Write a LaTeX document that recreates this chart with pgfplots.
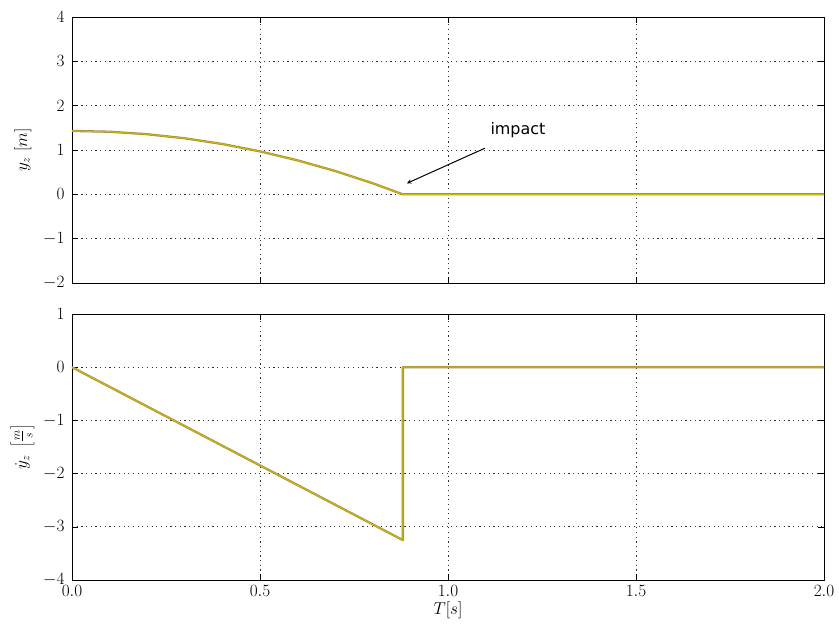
\documentclass[border=0pt]{standalone}
\usepackage{pgfplots}
\pgfplotsset{compat=1.18}
\usepackage{fontspec}
\newfontfamily\dejavu{DejaVu Sans}
\definecolor{lineouter}{RGB}{165,140,75}
\definecolor{lineinner}{RGB}{205,185,0}
\pgfplotstableread{
t y
0.00 1.430
0.10 1.412
0.20 1.356
0.30 1.264
0.40 1.135
0.50 0.969
0.60 0.766
0.70 0.526
0.80 0.249
0.88 0.000
2.00 0.000
}\postable
\pgfplotstableread{
t v
0.00 0.00
0.88 -3.25
0.88 0.00
2.00 0.00
}\veltable
\begin{document}
\begin{tikzpicture}[x=1bp,y=1bp]
\pgfplotsset{
  every axis/.style={
    scale only axis, width=752bp, height=266bp,
    xmin=0, xmax=2,
    axis line style={black, line width=0.9pt},
    tick align=inside, xtick pos=both, ytick pos=both,
    major tick length=6bp,
    tick style={black, line width=0.6pt},
    grid=major, major grid style={black!80, dash pattern=on 1.2pt off 3.5pt, line width=0.7pt},
    xtick={0,0.5,1,1.5,2},
    tick label style={font=\fontsize{17}{19}\selectfont},
    yticklabel style={xshift=-4bp},
    label style={font=\fontsize{17}{19}\selectfont},
    xticklabel style={yshift=-2bp, /pgf/number format/.cd, fixed, fixed zerofill, precision=1},
  },
}
\begin{axis}[
  at={(0,0)}, anchor=south west,
  ymin=-2, ymax=4, ytick={-2,-1,0,1,2,3,4},
  xticklabels={},
  ylabel={$y_z\ [m]$},
  ylabel style={yshift=5bp},
]
\addplot[lineouter, line width=2.3pt, line join=round] table[x=t,y=y] {\postable};
\addplot[lineinner, line width=1pt, line join=round] table[x=t,y=y] {\postable};
\draw[-stealth, line width=1pt] (axis cs:1.098,1.04) -- (axis cs:0.891,0.25);
\node[font=\dejavu\fontsize{16}{18}\selectfont] at (axis cs:1.186,1.44) {impact};
\end{axis}
\begin{axis}[
  at={(0,-297bp)}, anchor=south west,
  ymin=-4, ymax=1, ytick={-4,-3,-2,-1,0,1},
  xlabel={$T[s]$},
  xlabel style={yshift=2bp},
  ylabel={$\dot{y}_z\ \left[\frac{m}{s}\right]$},
  ylabel style={yshift=2bp},
]
\addplot[lineouter, line width=2.3pt, line join=round] table[x=t,y=v] {\veltable};
\addplot[lineinner, line width=1pt, line join=round] table[x=t,y=v] {\veltable};
\end{axis}
\pgfresetboundingbox
\useasboundingbox (-72bp,-343bp) rectangle (767bp,283bp);
\end{tikzpicture}
\end{document}
